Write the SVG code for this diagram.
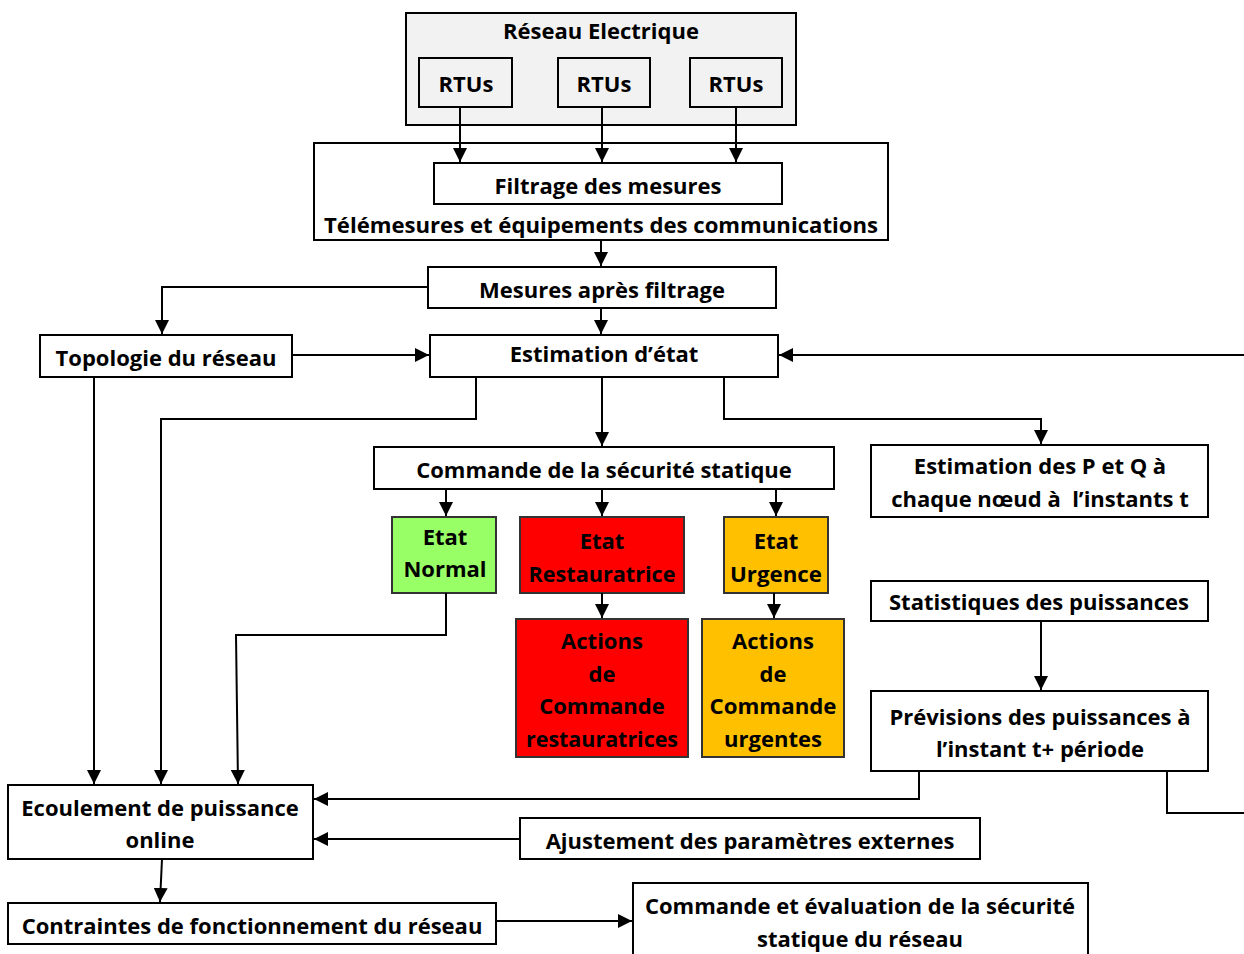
<svg xmlns="http://www.w3.org/2000/svg" width="1244" height="954" viewBox="0 0 1244 954">
<defs>
<marker id="ah" markerUnits="userSpaceOnUse" markerWidth="14" markerHeight="14" viewBox="0 0 14 14" refX="14" refY="7" orient="auto">
<path d="M0,0 L14,7 L0,14 Z" fill="#000"/>
</marker>
</defs>
<style>
.b{fill:#fff;stroke:#000;stroke-width:2}
.g{fill:#f2f2f2;stroke:#000;stroke-width:2}
.gr{fill:#99ff66;stroke:#333;stroke-width:2}
.rd{fill:#ff0000;stroke:#333;stroke-width:2}
.or{fill:#ffc000;stroke:#333;stroke-width:2}
text{font-family:"Open Sans","Noto Sans","Liberation Sans",sans-serif;font-weight:bold;font-size:22px;fill:#000;text-anchor:middle}
.c path{fill:none;stroke:#000;stroke-width:2;marker-end:url(#ah)}
.c .n{marker-end:none}
</style>
<rect width="1244" height="954" fill="#fff"/>
<g id="reseau"><rect class="g" x="406" y="13" width="390" height="112"/><text x="601" y="39">Réseau Electrique</text></g>
<g id="rtu1"><rect class="g" x="419" y="58" width="93" height="49"/><text x="466" y="92">RTUs</text></g>
<g id="rtu2"><rect class="g" x="558" y="58" width="92" height="49"/><text x="604" y="92">RTUs</text></g>
<g id="rtu3"><rect class="g" x="690" y="58" width="92" height="49"/><text x="736" y="92">RTUs</text></g>
<g id="telemesures"><rect class="b" x="314" y="143" width="574" height="97"/><text x="601" y="233" textLength="554" lengthAdjust="spacingAndGlyphs">Télémesures et équipements des communications</text></g>
<g id="filtrage"><rect class="b" x="434" y="163" width="348" height="41"/><text x="608" y="194">Filtrage des mesures</text></g>
<g id="mesures"><rect class="b" x="428" y="267" width="348" height="41"/><text x="602" y="298">Mesures après filtrage</text></g>
<g id="topologie"><rect class="b" x="40" y="335" width="252" height="42"/><text x="166" y="366">Topologie du réseau</text></g>
<g id="estimation"><rect class="b" x="430" y="335" width="348" height="42"/><text x="604" y="362">Estimation d’état</text></g>
<g id="commande"><rect class="b" x="374" y="447" width="460" height="42"/><text x="604" y="478">Commande de la sécurité statique</text></g>
<g id="estpq"><rect class="b" x="871" y="445" width="337" height="72"/><text x="1040" y="474">Estimation des P et Q à</text><text x="1040" y="507" xml:space="preserve">chaque nœud à  l’instants t</text></g>
<g id="normal"><rect class="gr" x="392" y="517" width="104" height="76"/><text x="445" y="545">Etat</text><text x="445" y="577">Normal</text></g>
<g id="restauratrice"><rect class="rd" x="520" y="517" width="164" height="76"/><text x="602" y="549">Etat</text><text x="602" y="582" textLength="147" lengthAdjust="spacingAndGlyphs">Restauratrice</text></g>
<g id="urgence"><rect class="or" x="724" y="517" width="104" height="76"/><text x="776" y="549">Etat</text><text x="776" y="582" textLength="92" lengthAdjust="spacingAndGlyphs">Urgence</text></g>
<g id="actrest"><rect class="rd" x="516" y="619" width="172" height="138"/><text x="602" y="649">Actions</text><text x="602" y="682">de</text><text x="602" y="714">Commande</text><text x="602" y="747" textLength="152" lengthAdjust="spacingAndGlyphs">restauratrices</text></g>
<g id="acturg"><rect class="or" x="702" y="619" width="142" height="138"/><text x="773" y="649">Actions</text><text x="773" y="682">de</text><text x="773" y="714" textLength="127" lengthAdjust="spacingAndGlyphs">Commande</text><text x="773" y="747">urgentes</text></g>
<g id="statistiques"><rect class="b" x="871" y="581" width="337" height="40"/><text x="1039" y="610">Statistiques des puissances</text></g>
<g id="previsions"><rect class="b" x="871" y="691" width="337" height="80"/><text x="1040" y="725">Prévisions des puissances à</text><text x="1040" y="757">l’instant t+ période</text></g>
<g id="ecoulement"><rect class="b" x="8" y="785" width="305" height="74"/><text x="160" y="816">Ecoulement de puissance</text><text x="160" y="848">online</text></g>
<g id="ajustement"><rect class="b" x="520" y="818" width="460" height="41"/><text x="750" y="849">Ajustement des paramètres externes</text></g>
<g id="contraintes"><rect class="b" x="8" y="903" width="488" height="41"/><text x="252" y="934">Contraintes de fonctionnement du réseau</text></g>
<g id="evaluation"><rect class="b" x="633" y="883" width="455" height="80"/><text x="860" y="914">Commande et évaluation de la sécurité</text><text x="860" y="947">statique du réseau</text></g>
<g id="connectors" class="c">
<path d="M460,107 V162"/>
<path d="M602,107 V162"/>
<path d="M736,107 V162"/>
<path d="M601,240 V266"/>
<path d="M428,287 H162 V334"/>
<path d="M601,308 V334"/>
<path d="M292,355 H429"/>
<path d="M1244,355 H779"/>
<path d="M94,377 V784"/>
<path d="M476,377 V419 H161 V784"/>
<path d="M602,377 V446"/>
<path d="M724,377 V419 H1041 V444"/>
<path d="M446,489 V516"/>
<path d="M602,489 V516"/>
<path d="M776,489 V516"/>
<path d="M602,593 V618"/>
<path d="M774,593 V618"/>
<path d="M446,593 V635 H236 L238,784"/>
<path d="M1041,621 V690"/>
<path d="M919,771 V799 H314"/>
<path class="n" d="M1167,771 V813 H1244"/>
<path d="M520,839 H314"/>
<path d="M162,859 L160,902"/>
<path d="M496,921 H632"/>
</g>
</svg>
